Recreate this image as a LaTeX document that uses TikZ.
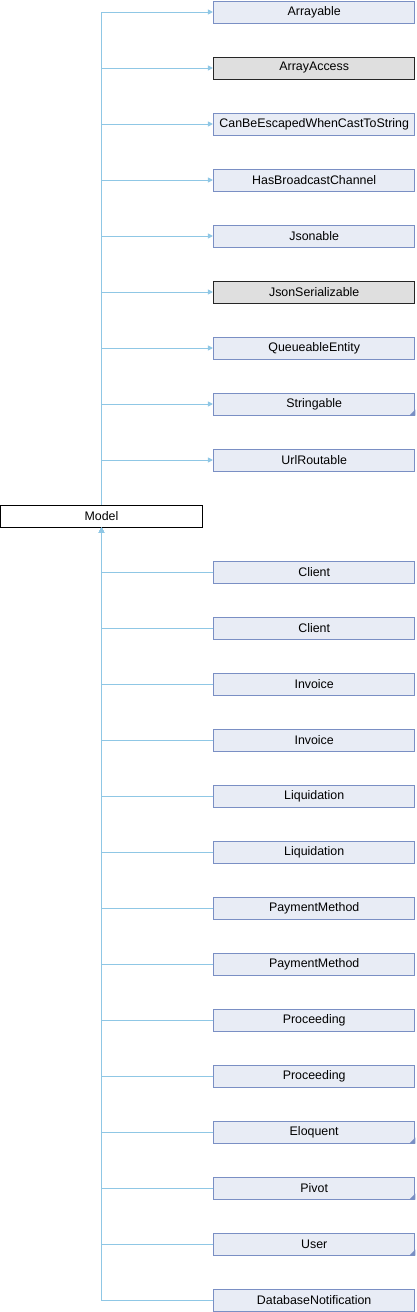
\documentclass[tikz,border=0pt]{standalone}
\usepackage{fontspec}
\setmainfont{Liberation Sans}
\usepackage{tikz}
\usetikzlibrary{arrows.meta}
\definecolor{edgeblue}{rgb}{0.56, 0.78, 0.90}
\definecolor{boxfill}{rgb}{0.91, 0.925, 0.96}
\definecolor{boxline}{rgb}{0.48, 0.56, 0.77}
\definecolor{extfill}{rgb}{0.875, 0.875, 0.875}
\newcommand{\cornermark}[1]{\fill[boxline] (#1.south east) -- ++(-6,0) -- ++(6,-6) -- cycle;}
\tikzset{
  cls/.style={draw=boxline, fill=boxfill, line width=1pt, minimum width=201.5pt, minimum height=22pt, inner sep=0pt, font=\fontsize{12.4}{13}\selectfont},
  ext/.style={cls, draw=black!85, fill=extfill},
  base/.style={cls, draw=black, fill=white},
  edge/.style={draw=edgeblue, line width=1pt, -{Triangle[length=5pt,width=5pt]}},
  sub/.style={draw=edgeblue, line width=1pt, {Triangle[length=5pt,width=5pt]}-}
}

\begin{document}
\begin{tikzpicture}[x=1pt,y=-1pt]
\useasboundingbox (0,0) rectangle (416,1312);
\node[base] (model) at (101.5,516) {Model};
% interfaces
\node[cls] (arrayable)   at (314.2,12)  {Arrayable};
\node[ext] (arrayaccess) at (314.2,68)  {ArrayAccess};
\node[cls] (canbeesc)    at (314.2,124) {CanBeEscapedWhenCastToString};
\node[cls] (hasbcast)    at (314.2,180) {HasBroadcastChannel};
\node[cls] (jsonable)    at (314.2,236) {Jsonable};
\node[ext] (jsonser)     at (314.2,292) {JsonSerializable};
\node[cls] (queueable)   at (314.2,348) {QueueableEntity};
\node[cls] (stringable)  at (314.2,404) {Stringable};
\node[cls] (urlroutable) at (314.2,460) {UrlRoutable};
% derived classes
\node[cls] (client1)     at (314.2,572)  {Client};
\node[cls] (client2)     at (314.2,628)  {Client};
\node[cls] (invoice1)    at (314.2,684)  {Invoice};
\node[cls] (invoice2)    at (314.2,740)  {Invoice};
\node[cls] (liquid1)     at (314.2,796)  {Liquidation};
\node[cls] (liquid2)     at (314.2,852)  {Liquidation};
\node[cls] (paymeth1)    at (314.2,908)  {PaymentMethod};
\node[cls] (paymeth2)    at (314.2,964)  {PaymentMethod};
\node[cls] (proceed1)    at (314.2,1020) {Proceeding};
\node[cls] (proceed2)    at (314.2,1076) {Proceeding};
\node[cls] (eloquent)    at (314.2,1132) {Eloquent};
\node[cls] (pivot)       at (314.2,1188) {Pivot};
\node[cls] (user)        at (314.2,1244) {User};
\node[cls] (dbnotif)     at (314.2,1300) {DatabaseNotification};
\cornermark{stringable}
\cornermark{eloquent}
\cornermark{pivot}
\cornermark{user}
% edges up
\draw[edge] (model.north) |- (arrayable.west);
\draw[edge] (model.north) |- (arrayaccess.west);
\draw[edge] (model.north) |- (canbeesc.west);
\draw[edge] (model.north) |- (hasbcast.west);
\draw[edge] (model.north) |- (jsonable.west);
\draw[edge] (model.north) |- (jsonser.west);
\draw[edge] (model.north) |- (queueable.west);
\draw[edge] (model.north) |- (stringable.west);
\draw[edge] (model.north) |- (urlroutable.west);
% edges down
\draw[sub] (model.south) |- (client1.west);
\draw[sub] (model.south) |- (client2.west);
\draw[sub] (model.south) |- (invoice1.west);
\draw[sub] (model.south) |- (invoice2.west);
\draw[sub] (model.south) |- (liquid1.west);
\draw[sub] (model.south) |- (liquid2.west);
\draw[sub] (model.south) |- (paymeth1.west);
\draw[sub] (model.south) |- (paymeth2.west);
\draw[sub] (model.south) |- (proceed1.west);
\draw[sub] (model.south) |- (proceed2.west);
\draw[sub] (model.south) |- (eloquent.west);
\draw[sub] (model.south) |- (pivot.west);
\draw[sub] (model.south) |- (user.west);
\draw[sub] (model.south) |- (dbnotif.west);
\end{tikzpicture}
\end{document}
